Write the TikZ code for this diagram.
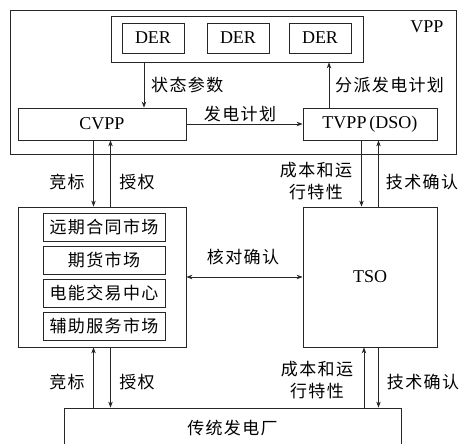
\documentclass[tikz,border=0pt]{standalone}
\usepackage{fontspec}
\setmainfont{Liberation Serif}
\newfontfamily\cjk[LetterSpace=8]{Noto Sans CJK SC}
\usetikzlibrary{arrows.meta}

\begin{document}
\begin{tikzpicture}[x=1pt,y=-1pt]
\tikzset{box/.style={draw=black!85,line width=0.8pt,inner sep=0pt,
    font=\fontsize{18}{20}\selectfont}}
\tikzset{lab/.style={font=\cjk\fontsize{17}{22}\selectfont,inner sep=1pt,align=center},
    arr/.style={line width=0.8pt,draw=black!85,-{Stealth[length=6pt,width=4.5pt]}}}

\clip (0,0) rectangle (463,444);

% VPP part
\node[box,minimum width=446,minimum height=144] (vpp) at (233,82) {};
\node[box,draw=none] (vppname) at (427,27) {VPP};
\node[box,minimum width=252,minimum height=46] (ders) at (237,39) {};
\foreach \x [count=\i] in {153,238,320} {
    \node[box,minimum width=62,minimum height=30] (der\i) at (\x,38) {DER};
}
\node[box,minimum width=168,minimum height=32] (cvpp) at (102,124) {CVPP};
\node[box,minimum width=134,minimum height=32] (tvpp) at (370,124) {TVPP\,(DSO)};

% market and TSO
\node[box,minimum width=168,minimum height=140] (mkt) at (102,277) {};
\foreach \name [count=\i] in {远期合同市场,期货市场,电能交易中心,辅助服务市场} {
    \node[box,lab,inner sep=0pt,minimum width=122,minimum height=28] (m\i) at (104,194+33*\i) {\name};
}
\node[box,minimum width=134,minimum height=140] (tso) at (370,277) {TSO};
\node[box,lab,inner sep=0pt,minimum width=337,minimum height=40] (plant) at (232.5,428) {传统发电厂};

% connectors
\draw[arr] ([xshift=42pt]cvpp.north |- ders.south) -- ([xshift=42pt]cvpp.north);
\draw[arr] ([xshift=-41pt]tvpp.north) -- ([xshift=-41pt]tvpp.north |- ders.south);
\draw[arr] (cvpp.east) -- (tvpp.west);
\draw[arr] ([xshift=-8.5pt]cvpp.south) -- ([xshift=-8.5pt]mkt.north);
\draw[arr] ([xshift=8.5pt]mkt.north) -- ([xshift=8.5pt]cvpp.south);
\draw[arr] ([xshift=-8.5pt]tvpp.south) -- ([xshift=-8.5pt]tso.north);
\draw[arr] ([xshift=8.5pt]tso.north) -- ([xshift=8.5pt]tvpp.south);
\draw[arr,{Stealth[length=6pt,width=4.5pt]}-{Stealth[length=6pt,width=4.5pt]}] (mkt.east) -- (tso.west);
\draw[arr] ([xshift=-8.5pt]mkt.south |- plant.north) -- ([xshift=-8.5pt]mkt.south);
\draw[arr] ([xshift=8.5pt]mkt.south) -- ([xshift=8.5pt]mkt.south |- plant.north);
\draw[arr] ([xshift=-6pt]tso.south |- plant.north) -- ([xshift=-6pt]tso.south);
\draw[arr] ([xshift=8.5pt]tso.south) -- ([xshift=8.5pt]tso.south |- plant.north);

% labels
\node[lab,anchor=west] (l1) at (150,85) {状态参数};
\node[lab,anchor=west] (l2) at (334,85) {分派发电计划};
\node[lab] (l3) at (240,114) {发电计划};
\node[lab] (l4) at (67,182) {竞标};
\node[lab] (l5) at (137,182) {授权};
\node[lab] (l6) at (316,181) {成本和运\\行特性};
\node[lab] (l7) at (422,182) {技术确认};
\node[lab] (l8) at (243,257) {核对确认};
\node[lab] (l9) at (67,382) {竞标};
\node[lab] (l10) at (137,382) {授权};
\node[lab] (l11) at (317,380) {成本和运\\行特性};
\node[lab] (l12) at (423,382) {技术确认};
\end{tikzpicture}
\end{document}
